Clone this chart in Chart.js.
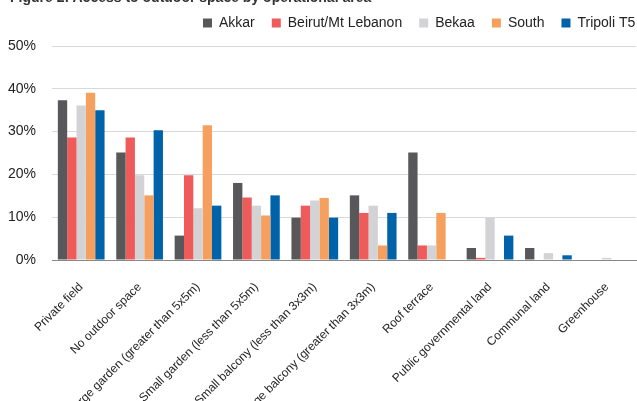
<!DOCTYPE html>
<html>
<head>
<meta charset="utf-8">
<script src="https://cdn.jsdelivr.net/npm/chart.js@4.4.0/dist/chart.umd.min.js"></script>
<style>
  html, body { margin: 0; padding: 0; background: #fff; }
  #wrap { position: relative; width: 637px; height: 401px; overflow: hidden; }
  #title { position: absolute; left: 10px; top: -11px; line-height: 16px; font: bold 14px Arial, 'Liberation Sans', sans-serif; color: #333; white-space: nowrap; }
</style>
</head>
<body>
<div id="wrap">
  <div id="title">Figure 2: Access to outdoor space by operational area</div>
  <canvas id="grafico" width="637" height="401"></canvas>
</div>
<script>
var categories = ['Private field', 'No outdoor space', 'Large garden (greater than 5x5m)',
  'Small garden (less than 5x5m)', 'Small balcony (less than 3x3m)',
  'Large balcony (greater than 3x3m)', 'Roof terrace', 'Public governmental land',
  'Communal land', 'Greenhouse'];

var akkar   = [37.3, 25.1, 5.7, 18.0, 9.9, 15.1, 25.1, 2.8, 2.8, 0];
var beirut  = [28.6, 28.6, 19.8, 14.6, 12.7, 11.0, 3.4, 0.5, 0, 0];
var bekaa   = [36.1, 19.8, 12.1, 12.7, 13.9, 12.7, 3.4, 9.9, 1.6, 0.5];
var south   = [39.1, 15.1, 31.5, 10.4, 14.5, 3.4, 11.0, 0, 0, 0];
var tripoli = [35.0, 30.3, 12.7, 15.1, 9.9, 11.0, 0, 5.7, 1.1, 0];

var yTicks = [0, 10, 20, 30, 40, 50];

var data = {
  labels: categories,
  datasets: [
    { label: 'Akkar', data: akkar, backgroundColor: '#58585A' },
    { label: 'Beirut/Mt Lebanon', data: beirut, backgroundColor: '#EF5A5A' },
    { label: 'Bekaa', data: bekaa, backgroundColor: '#D3D3D5' },
    { label: 'South', data: south, backgroundColor: '#F5A05F' },
    { label: 'Tripoli T5', data: tripoli, backgroundColor: '#0062A8' }
  ]
};

// move the legend to where the original has it
var legendPlace = {
  id: 'legendPlace',
  afterLayout: function (chart) {
    var lg = chart.legend;
    var p = lg.options.labels.padding;
    var w = lg.right - lg.left;
    lg.left = 203 - p;
    lg.right = lg.left + w + 100;
    lg.top -= 6;
    lg.bottom -= 6;
  }
};

var options = {
  responsive: false,
  animation: false,
  layout: { padding: { left: 0, right: 1, top: 5, bottom: 0 } },
  datasets: { bar: { categoryPercentage: 0.8, barPercentage: 1.0 } },
  plugins: {
    legend: {
      position: 'top',
      align: 'start',
      labels: {
        boxWidth: 9,
        boxHeight: 9,
        padding: 17,
        color: '#222',
        font: { family: 'Arial, sans-serif', size: 14 }
      }
    },
    tooltip: { enabled: false }
  },
  scales: {
    x: {
      afterFit: function (axis) { axis.height = 141; },
      grid: { display: false, drawOnChartArea: false, offset: true, tickLength: 5, color: '#888' },
      border: { display: true, color: '#888' },
      ticks: {
        minRotation: 45, maxRotation: 45,
        padding: 15,
        color: '#222',
        font: { family: 'Arial, sans-serif', size: 12 }
      }
    },
    y: {
      min: 0, max: 50,
      afterFit: function (axis) { axis.width = 52; },
      afterBuildTicks: function (axis) {
        axis.ticks = yTicks.map(function (v) { return { value: v }; });
      },
      grid: { color: '#D9D9D9', lineWidth: 1, drawTicks: false },
      border: { display: false },
      ticks: {
        padding: 16,
        color: '#222',
        font: { family: 'Arial, sans-serif', size: 14 },
        callback: function (v) { return v + '%'; }
      }
    }
  }
};

var ctx = document.getElementById('grafico').getContext('2d');
var barChart = new Chart(ctx, { type: 'bar', data: data, options: options, plugins: [legendPlace] });
</script>
</body>
</html>
